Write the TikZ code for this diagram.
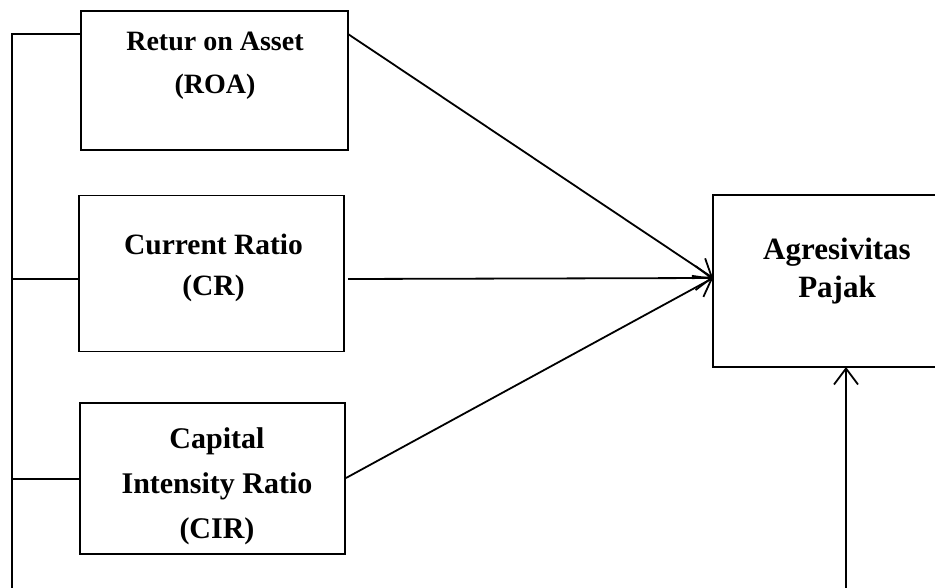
\documentclass[tikz,border=0pt]{standalone}
\usepackage{fontspec}
\setmainfont{Liberation Serif}
\usetikzlibrary{arrows.meta}
\begin{document}
\begin{tikzpicture}[x=1pt,y=-1pt,
  boxst/.style={draw,line width=1.8pt,inner sep=0pt},
  lbl/.style={anchor=north,inner sep=0pt,align=center},
  conn/.style={line width=1.8pt},
  arr/.style={line width=1.8pt,-{Straight Barb[length=16pt,width=24pt,line width=1.8pt]}}]
\useasboundingbox (0,0) rectangle (935,588);
% boxes
\node[boxst,minimum width=267pt,minimum height=139pt] (roa) at (214.5,80.5) {};
\node[boxst,minimum width=265pt,minimum height=156pt] (cr) at (211.5,273.5) {};
\node[boxst,minimum width=265pt,minimum height=151pt] (cir) at (212.5,478.5) {};
\node[boxst,minimum width=230pt,minimum height=172pt] (ap) at (828,281) {};
% labels
\node[lbl,font=\bfseries\fontsize{28}{43}\selectfont] (roaT) at (215,32) {Retur on Asset\\(ROA)};
\node[lbl,font=\bfseries\fontsize{29.5}{41}\selectfont] (crT) at (213.5,234) {Current Ratio\\(CR)};
\node[lbl,font=\bfseries\fontsize{30}{45}\selectfont] (cirT) at (217,427) {Capital\\Intensity Ratio\\(CIR)};
\node[lbl,font=\bfseries\fontsize{31}{38}\selectfont] (apT) at (837,238) {Agresivitas\\Pajak};
% coordinates
\coordinate (lbot) at (12,588);
\coordinate (roaIn) at (81,34);
\coordinate (crIn) at (79,279);
\coordinate (cirIn) at (80,479);
\coordinate (roaOut) at (348,34);
\coordinate (crOut) at (348,279);
\coordinate (cirOut) at (346,478);
\coordinate (apIn) at (713,278);
\coordinate (apBot) at (846,367);
\coordinate (bbot) at (846,588);
% left bus
\draw[conn] (lbot) |- (roaIn);
\draw[conn] (lbot |- crIn) -- (crIn);
\draw[conn] (lbot |- cirIn) -- (cirIn);
% arrows
\draw[arr] (roaOut) -- (apIn);
\draw[arr] (crOut) -- (apIn);
\draw[arr] (cirOut) -- (apIn);
\draw[arr] (bbot) -- (apBot);
\end{tikzpicture}
\end{document}
